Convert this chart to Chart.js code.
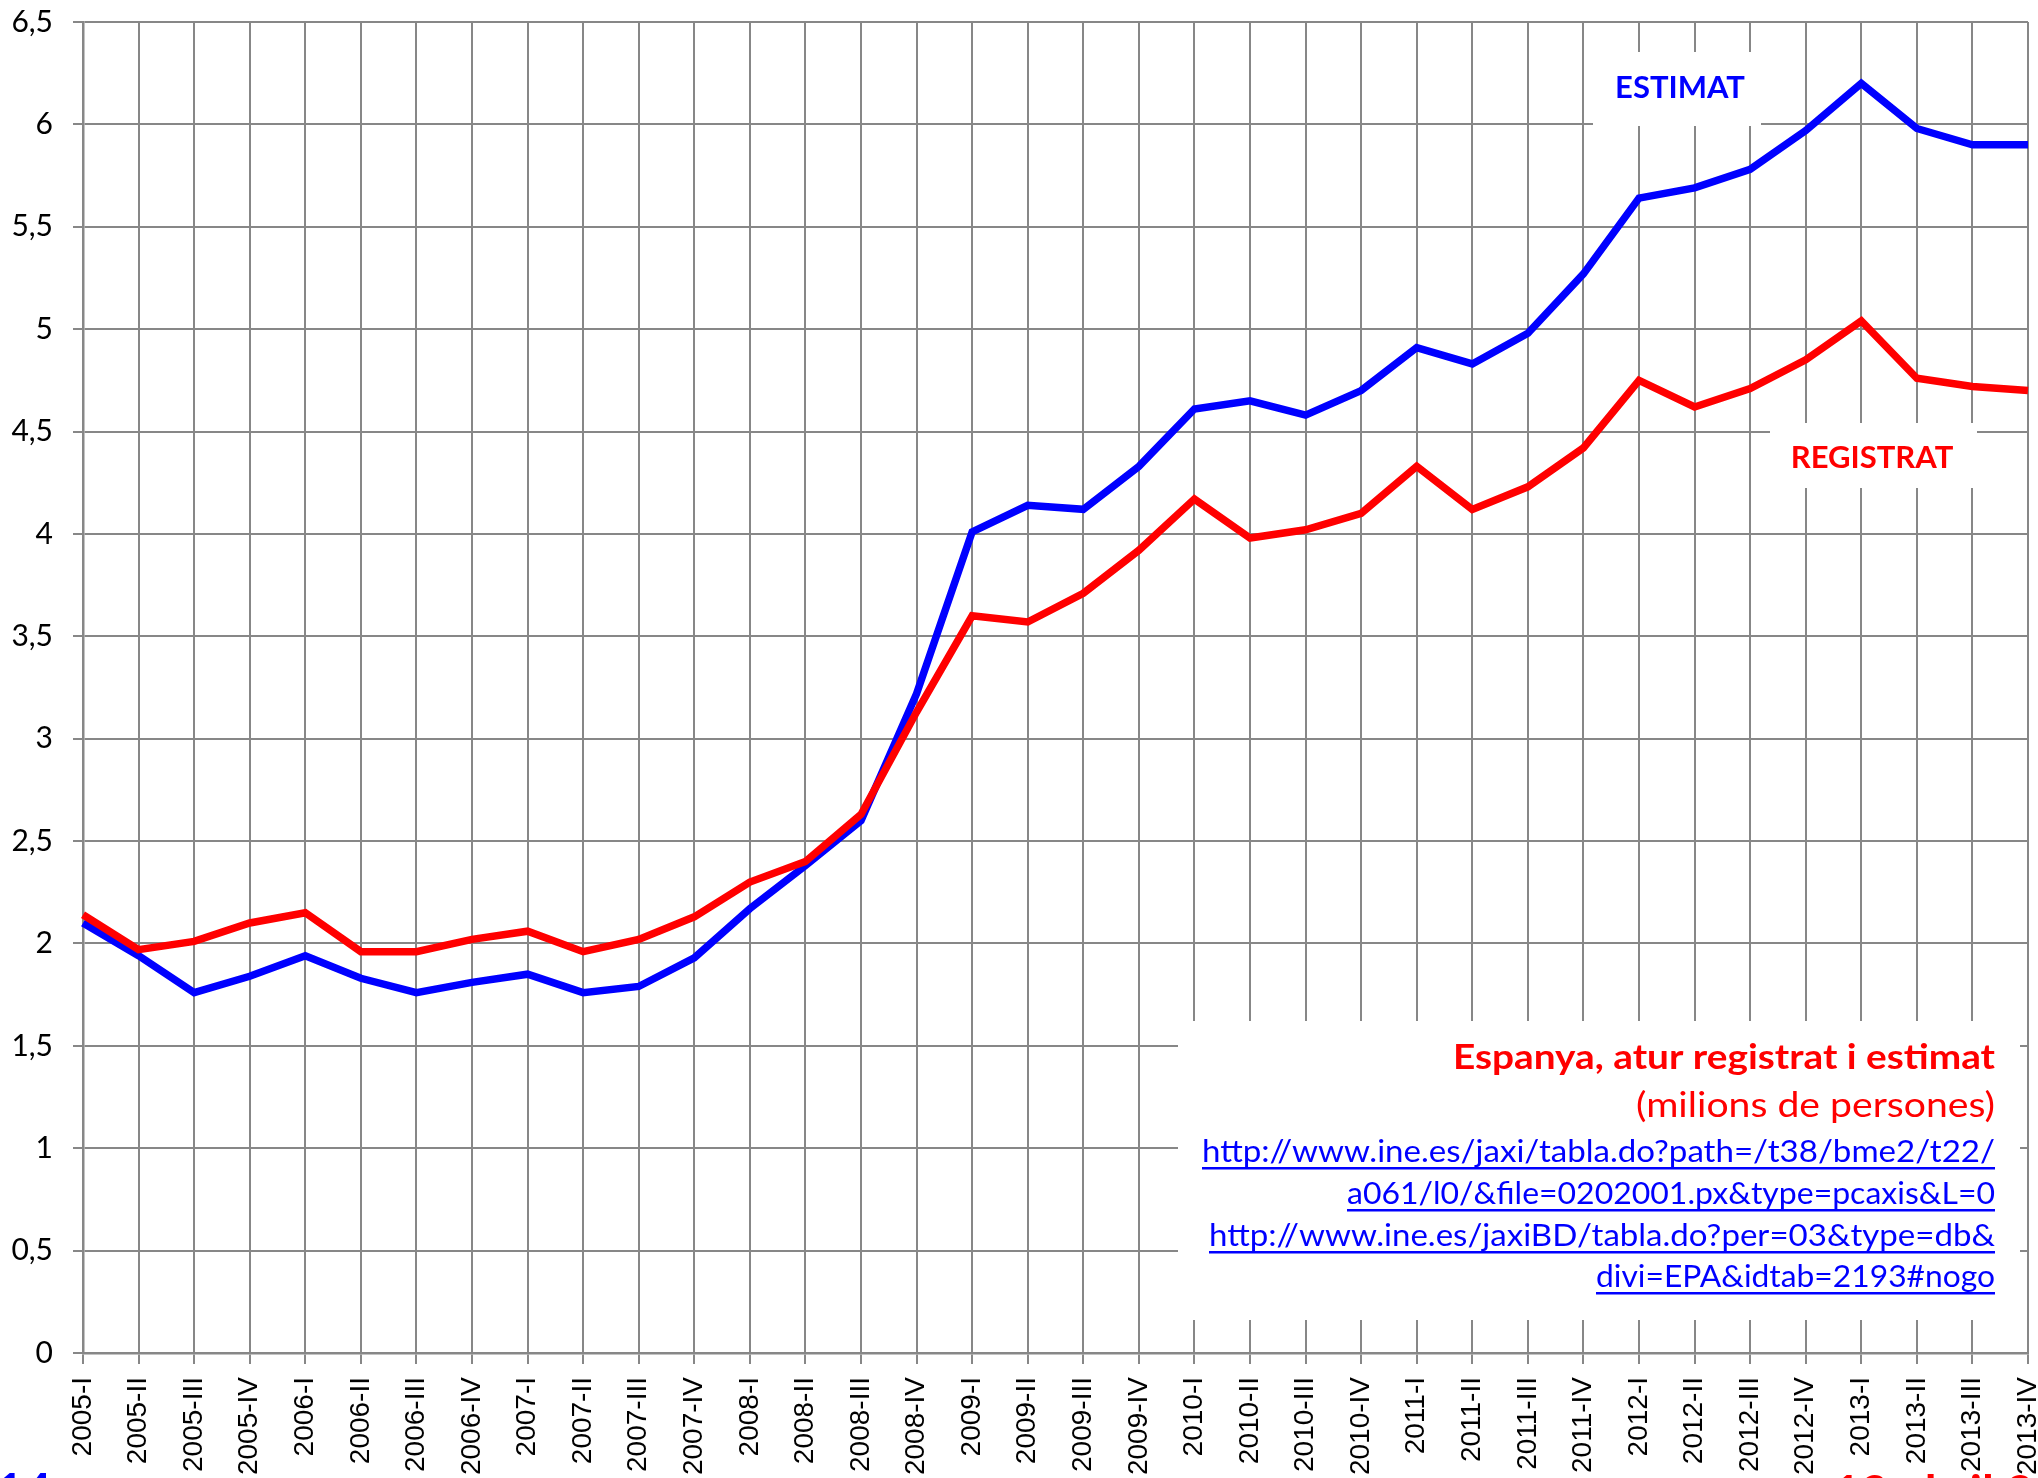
<!DOCTYPE html>
<html>
<head>
<meta charset="utf-8">
<script src="https://cdn.jsdelivr.net/npm/chart.js@4/dist/chart.umd.min.js"></script>
<style>
  html, body { margin: 0; padding: 0; background: #fff; overflow: hidden; }
  #chart { display: block; }
</style>
</head>
<body>
<canvas id="chart" width="2038" height="1478"></canvas>
<script>
// Espanya, atur registrat i estimat (milions de persones), trimestres 2005-2013

const quarters = [
  '2005-I', '2005-II', '2005-III', '2005-IV',
  '2006-I', '2006-II', '2006-III', '2006-IV',
  '2007-I', '2007-II', '2007-III', '2007-IV',
  '2008-I', '2008-II', '2008-III', '2008-IV',
  '2009-I', '2009-II', '2009-III', '2009-IV',
  '2010-I', '2010-II', '2010-III', '2010-IV',
  '2011-I', '2011-II', '2011-III', '2011-IV',
  '2012-I', '2012-II', '2012-III', '2012-IV',
  '2013-I', '2013-II', '2013-III', '2013-IV'
]

// atur estimat (EPA) - línia blava
const estimat = [
  2.10, 1.94, 1.76, 1.84, 1.94, 1.83, 1.76, 1.81, 1.85, 1.76, 1.79, 1.93,
  2.17, 2.38, 2.60, 3.22, 4.01, 4.14, 4.12, 4.33, 4.61, 4.65, 4.58, 4.70,
  4.91, 4.83, 4.98, 5.27, 5.64, 5.69, 5.78, 5.97, 6.20, 5.98, 5.90, 5.90
]

// atur registrat - línia vermella
const registrat = [
  2.14, 1.97, 2.01, 2.10, 2.15, 1.96, 1.96, 2.02, 2.06, 1.96, 2.02, 2.13,
  2.30, 2.40, 2.63, 3.13, 3.60, 3.57, 3.71, 3.92, 4.17, 3.98, 4.02, 4.10,
  4.33, 4.12, 4.23, 4.42, 4.75, 4.62, 4.71, 4.85, 5.04, 4.76, 4.72, 4.70
]

const yTicksMax = 6.5
const yTicksStep = 0.5

const titleLines = [
  'Espanya, atur registrat i estimat',
  '(milions de persones)'
]
const linkLines = [
  'http://www.ine.es/jaxi/tabla.do?path=/t38/bme2/t22/',
  'a061/l0/&file=0202001.px&type=pcaxis&L=0',
  'http://www.ine.es/jaxiBD/tabla.do?per=03&type=db&',
  'divi=EPA&idtab=2193#nogo'
]

const RED = '#FF0000'
const BLUE = '#0000FF'
const GRID = '#878787'

// text squeezed/stretched to a given width, right aligned at x
function fitText (ctx, text, xRight, baseline, width, font, color, underline) {
  ctx.save()
  ctx.font = font
  ctx.fillStyle = color
  ctx.textAlign = 'left'
  ctx.textBaseline = 'alphabetic'
  const natural = ctx.measureText(text).width
  ctx.translate(xRight - width, baseline)
  ctx.scale(width / natural, 1)
  ctx.fillText(text, 0, 0)
  ctx.restore()
  if (underline) {
    ctx.fillStyle = color
    ctx.fillRect(xRight - width, baseline + 5, width, 2.5)
  }
}

function whiteBox (ctx, x1, y1, x2, y2) {
  ctx.fillStyle = '#ffffff'
  ctx.fillRect(x1, y1, x2 - x1, y2 - y1)
}

const overlayPlugin = {
  id: 'overlay',
  beforeDatasetsDraw (chart) {
    const ctx = chart.ctx
    // holes in the grid behind the annotations
    whiteBox(ctx, 1593, 52, 1761, 126)
    whiteBox(ctx, 1770, 423, 1977, 488)
    whiteBox(ctx, 1178, 1021, 2020, 1320)
  },
  afterDraw (chart) {
    const ctx = chart.ctx
    ctx.save()
    ctx.textAlign = 'center'
    ctx.textBaseline = 'middle'
    ctx.font = 'bold 31px Lato'
    ctx.fillStyle = BLUE
    ctx.fillText('ESTIMAT', 1680, 88)
    ctx.fillStyle = RED
    ctx.fillText('REGISTRAT', 1872, 458)
    ctx.restore()

    const xr = 1995
    fitText(ctx, titleLines[0], xr, 1069, 542, 'bold 35px Lato', RED, false)
    fitText(ctx, titleLines[1], xr, 1117, 359, '34px Lato', RED, false)
    const bases = [1162, 1204, 1246, 1287]
    const widths = [793, 648, 786, 399]
    linkLines.forEach((t, i) => {
      fitText(ctx, t, xr, bases[i], widths[i], '30px Lato', BLUE, true)
    })

    // textos tallats a la vora inferior
    ctx.save()
    ctx.textAlign = 'left'
    ctx.textBaseline = 'alphabetic'
    ctx.font = 'bold 48px Lato'
    ctx.fillStyle = BLUE
    ctx.fillText('14', -4, 1508)
    ctx.fillStyle = RED
    ctx.fillText('19 abril 2014', 1833, 1510)
    ctx.restore()
  }
}

/* global Chart */
new Chart(document.getElementById('chart').getContext('2d'), {
  type: 'line',
  data: {
    labels: quarters,
    datasets: [
      {
        label: 'REGISTRAT',
        data: registrat,
        borderColor: RED,
        borderWidth: 7.5,
        pointRadius: 0,
        tension: 0,
        fill: false,
        order: 0
      },
      {
        label: 'ESTIMAT',
        data: estimat,
        borderColor: BLUE,
        borderWidth: 7.5,
        pointRadius: 0,
        tension: 0,
        fill: false,
        order: 1
      }
    ]
  },
  options: {
    responsive: false,
    animation: false,
    layout: { padding: { top: 22, right: 10, left: 0, bottom: 0 } },
    plugins: {
      legend: { display: false },
      title: { display: false },
      tooltip: { enabled: false }
    },
    scales: {
      x: {
        offset: false,
        grid: { color: GRID, lineWidth: 2, tickLength: 11, drawTicks: true },
        border: { color: GRID, width: 2.5 },
        ticks: {
          autoSkip: false,
          maxRotation: 90,
          minRotation: 90,
          padding: 13,
          color: '#000',
          font: { family: 'Liberation Sans', size: 28 }
        },
        afterFit (scale) {
          scale.height = 125
          scale.paddingLeft = 0
          scale.paddingRight = 0
        }
      },
      y: {
        min: 0,
        max: yTicksMax,
        grid: { color: GRID, lineWidth: 2, tickLength: 10, drawTicks: true },
        border: { color: GRID, width: 2.5 },
        ticks: {
          stepSize: yTicksStep,
          padding: 20,
          color: '#000',
          font: { family: 'Lato', size: 30 },
          callback: (v) => String(v).replace('.', ',')
        },
        afterFit (scale) {
          scale.width = 83
          scale.paddingTop = 0
          scale.paddingBottom = 0
        }
      }
    }
  },
  plugins: [overlayPlugin]
})
</script>
</body>
</html>
